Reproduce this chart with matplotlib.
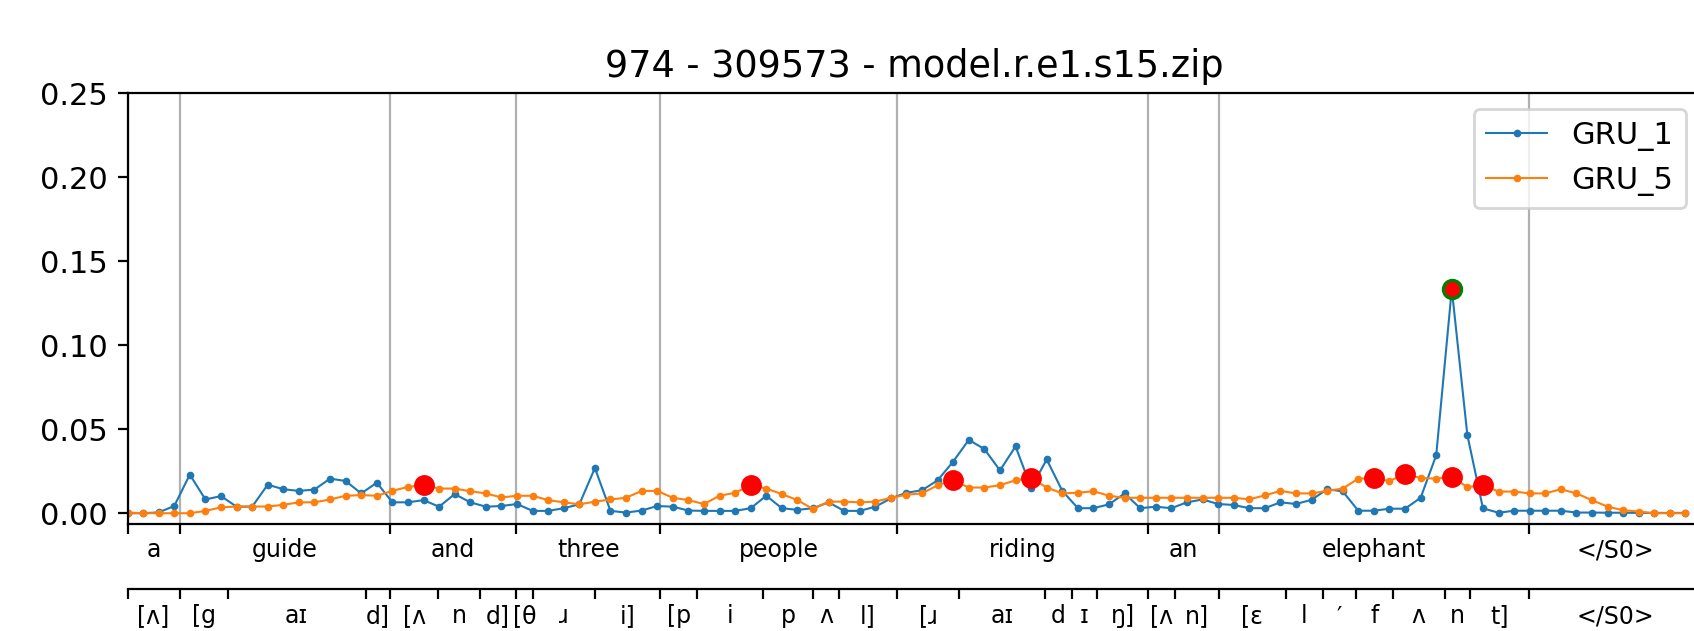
import numpy as np
import matplotlib
matplotlib.use('Agg')
import matplotlib.pyplot as plt

plt.rcParams['font.size'] = 11

# frame values
gru_1 = [0.0, 0.0, 0.0005, 0.0043, 0.023, 0.0082, 0.0102, 0.0039, 0.0039, 0.017,
         0.0143, 0.0133, 0.0141, 0.0206, 0.0192, 0.0118, 0.0182, 0.0065, 0.0065, 0.0078,
         0.0039, 0.0114, 0.0065, 0.0039, 0.0043, 0.0055, 0.0014, 0.0014, 0.003, 0.0053,
         0.0269, 0.0014, 0.0004, 0.0016, 0.0043, 0.0039, 0.0016, 0.0014, 0.0014, 0.0014,
         0.003, 0.0104, 0.003, 0.002, 0.003, 0.0065, 0.0014, 0.0014, 0.0039, 0.0088,
         0.0122, 0.0137, 0.0196, 0.0308, 0.0437, 0.0382, 0.0255, 0.0398, 0.0151, 0.032,
         0.0133, 0.003, 0.003, 0.0053, 0.0118, 0.003, 0.0039, 0.003, 0.0065, 0.0082,
         0.0055, 0.0049, 0.003, 0.003, 0.0065, 0.0055, 0.008, 0.0143, 0.013, 0.0015,
         0.0015, 0.0027, 0.0027, 0.0092, 0.0345, 0.1335, 0.0465, 0.0029, 0.0003, 0.0015,
         0.0015, 0.0015, 0.0015, 0.0004, 0.0004, 0.0003, 0.0003, 0.0002, 0.0002, 0.0002,
         0.0002]
gru_5 = [0.0004, 0.0, 0.0, 0.0, 0.0, 0.0014, 0.0035, 0.004, 0.004, 0.004,
         0.005, 0.0065, 0.0065, 0.0082, 0.0104, 0.0108, 0.0104, 0.0133, 0.0157, 0.0167,
         0.0147, 0.0147, 0.0131, 0.0118, 0.0094, 0.0104, 0.0104, 0.0078, 0.0065, 0.0053,
         0.0069, 0.0082, 0.0092, 0.0133, 0.0133, 0.0092, 0.0078, 0.0055, 0.0104, 0.0122,
         0.0167, 0.0147, 0.0114, 0.0078, 0.0025, 0.0069, 0.0069, 0.0065, 0.0069, 0.0092,
         0.011, 0.0118, 0.0167, 0.0196, 0.0153, 0.0153, 0.0167, 0.0196, 0.021, 0.0153,
         0.0118, 0.0122, 0.0131, 0.0104, 0.0092, 0.0092, 0.0092, 0.0092, 0.0092, 0.0092,
         0.0092, 0.0092, 0.0083, 0.0106, 0.0133, 0.0118, 0.0118, 0.0133, 0.0147, 0.0206,
         0.0208, 0.0192, 0.0233, 0.021, 0.0206, 0.0218, 0.0155, 0.0169, 0.0129, 0.0129,
         0.0118, 0.0118, 0.0143, 0.0118, 0.0078, 0.0039, 0.0018, 0.001, 0.0, 0.0,
         0.0]

# marked frames
red_frames = [19, 40, 53, 58, 80, 82, 85, 87]
peak_frame = 85

words = ['a', 'guide', 'and', 'three', 'people', 'riding', 'an', 'elephant', '</S0>']
word_bounds = [0, 3.34, 16.86, 24.95, 34.19, 49.38, 65.53, 70.03, 89.97, 101]

phones = ['[ʌ]', '[g', 'aɪ', 'd]', '[ʌ', 'n', 'd]', '[θ', 'ɹ', 'i]',
          '[p', 'i', 'p', 'ʌ', 'l]', '[ɹ', 'aɪ', 'd', 'ɪ', 'ŋ]', '[ʌ', 'n]',
          '[ɛ', 'l', '′', 'f', 'ʌ', 'n', 't]', '</S0>']
phone_bounds = [0, 3.34, 6.44, 15.28, 16.86, 19.96, 22.64, 24.95, 26.02, 30.02,
                34.19, 36.56, 40.82, 44.03, 45.67, 49.38, 53.4, 58.9, 60.6, 62.2,
                65.53, 67.24, 70.03, 74.37, 76.71, 78.84, 81.21, 84.54, 86.2, 89.97, 101]

title = '974 - 309573 - model.r.e1.s15.zip'


def centers(bounds):
    b = np.array(bounds)
    return (b[:-1] + b[1:]) / 2


x = np.arange(len(gru_1))
g1 = np.array(gru_1)
g5 = np.array(gru_5)

fig = plt.figure(figsize=(1694 / 200, 631 / 200), dpi=200)
ax = fig.add_axes([0.07527, 0.1688, 0.9289, 0.6833])

ax.plot(x, g1, '.-', lw=0.75, ms=3.5, color='#1f77b4', label='GRU_1')
ax.plot(x, g5, '.-', lw=0.75, ms=3.5, color='#ff7f0e', label='GRU_5')
ax.plot(x[red_frames], g5[red_frames], 'o', color='red', ms=6.5, zorder=5)
ax.plot([x[peak_frame]], [g1[peak_frame]], 'o', color='red', mec='green', mew=1.2, ms=6.5, zorder=6)

ax.set_xlim(0, word_bounds[-1])
ax.set_ylim(-0.0067, 0.25)
ax.set_yticks(np.arange(0, 0.26, 0.05))
ax.set_title(title)

# word axis: ticks on boundaries, labels in the middle
ax.set_xticks(word_bounds)
ax.set_xticklabels([])
ax.set_xticks(centers(word_bounds), minor=True)
ax.set_xticklabels(words, minor=True, fontsize=8.5)
ax.tick_params(axis='x', which='minor', length=0, pad=5)
ax.grid(axis='x', which='major', color='#b0b0b0', lw=0.8)
ax.legend(loc='upper right')

# phone axis below
ax2 = ax.twiny()
ax2.set_xlim(ax.get_xlim())
ax2.xaxis.set_ticks_position('bottom')
ax2.spines['bottom'].set_position(('outward', 23.2))
for s in ['top', 'left', 'right']:
    ax2.spines[s].set_visible(False)
ax2.set_xticks(phone_bounds)
ax2.set_xticklabels([])
ax2.set_xticks(centers(phone_bounds), minor=True)
ax2.set_xticklabels(phones, minor=True, fontsize=8.5)
ax2.tick_params(axis='x', which='minor', length=0, pad=5.6)

fig.savefig('out.png', dpi=200)
